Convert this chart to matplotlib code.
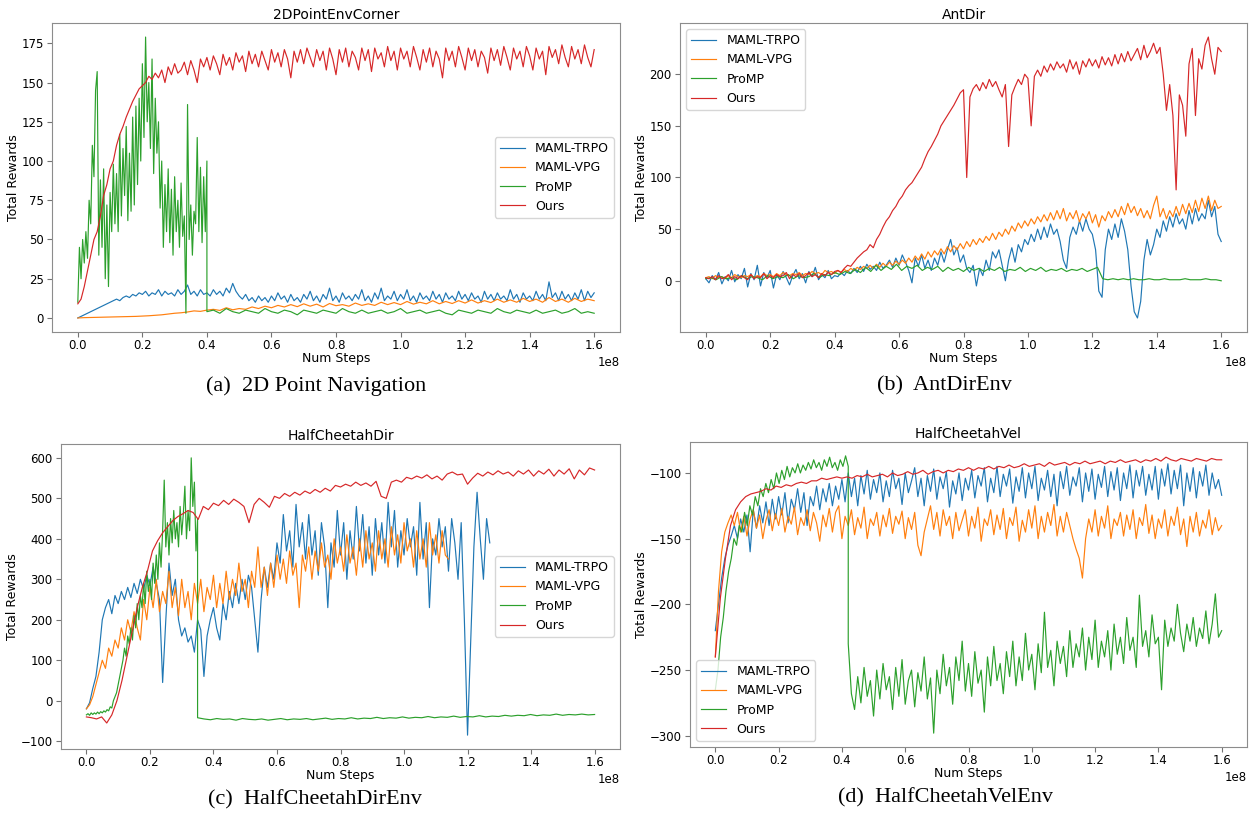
import numpy as np
import matplotlib
matplotlib.use("Agg")
import matplotlib.pyplot as plt

labels = ["MAML-TRPO", "MAML-VPG", "ProMP", "Ours"]
colors = ["#1f77b4", "#ff7f0e", "#2ca02c", "#d62728"]

# ---------------- (a) 2DPointEnvCorner ----------------
a_trpo = [0, 1, 2, 3, 4, 5, 6, 7, 8, 9, 10, 11, 12, 11, 13, 14, 13, 15, 14, 16, 15, 17, 14, 16, 15, 18, 14, 17, 15, 16,
          14, 18, 15, 17, 21, 15, 17, 14, 18, 15, 16, 14, 18, 15, 17, 14, 19, 16, 22, 17, 14, 12, 15, 11, 13, 10, 14, 11, 13, 10,
          14, 11, 16, 12, 14, 10, 15, 11, 13, 10, 15, 12, 17, 11, 14, 10, 15, 12, 19, 11, 14, 10, 16, 12, 14, 11, 15, 12, 18, 11,
          14, 10, 16, 12, 19, 11, 14, 12, 17, 11, 15, 12, 18, 11, 14, 10, 16, 12, 14, 11, 17, 12, 15, 10, 16, 12, 14, 11, 17, 12,
          15, 11, 16, 12, 14, 10, 17, 12, 15, 11, 16, 12, 14, 11, 18, 12, 15, 10, 16, 12, 14, 11, 17, 12, 15, 11, 23, 13, 16, 11,
          17, 12, 15, 11, 16, 12, 18, 11, 17, 13, 16]
a_vpg = [0, 0.2, 0.3, 0.4, 0.5, 0.6, 0.7, 0.8, 0.9, 1.0, 1.2, 1.4, 1.7, 2.0, 2.5, 3.0, 3.3, 3.8, 4.5, 4.2,
         5.0, 5.5, 4.8, 6.5, 5.2, 6.0, 5.5, 7.0, 6.0, 7.5, 6.5, 8.0, 7.0, 8.5, 7.2, 9.0, 7.5, 8.8, 7.0, 9.2,
         7.8, 8.5, 7.5, 9.5, 8.0, 9.0, 8.0, 10, 8.5, 9.8, 8.5, 10.5, 8.8, 10, 9, 11, 9, 10.5, 9.2, 11,
         9.5, 11.5, 9.5, 11, 9.8, 12, 10, 11.5, 10, 12.5, 10.5, 12, 10, 13, 10.5, 12, 10, 12.5, 10.5, 12, 11]
a_promp_early = [10, 45, 25, 50, 35, 55, 38, 75, 60, 110, 90, 145, 157, 40, 88, 45, 95, 25, 72, 20,
                 80, 55, 98, 60, 92, 55, 117, 65, 108, 78, 122, 62, 105, 68, 128, 72, 135, 85, 140, 100,
                 162, 115, 179, 125, 150, 108, 165, 92, 140, 105, 125, 70, 100, 45, 85, 55, 95, 48, 82, 40,
                 90, 55, 75, 45, 86, 52, 65, 3, 136, 50, 72, 40, 68, 60, 115, 55, 96, 48, 90, 55, 100]
a_promp_late = [4, 5, 3, 6, 4, 3, 5, 4, 3, 6, 4, 3, 5, 4, 2, 5, 4, 3, 5, 4, 3, 6, 4, 3, 5, 3, 4, 5, 3, 4,
                6, 3, 4, 5, 3, 4, 5, 3, 2, 5, 4, 3, 5, 4, 3, 6, 4, 3, 5, 4, 3, 5, 3, 4, 5, 3, 4, 6, 3, 4, 3]
a_ours = [9, 12, 20, 30, 40, 50, 55, 65, 78, 85, 95, 100, 110, 117, 122, 128, 133, 138, 142, 146,
          148, 150, 154, 152, 156, 153, 158, 150, 160, 155, 162, 156, 158, 163, 155, 164, 158, 150, 165, 160,
          166, 158, 167, 162, 155, 168, 161, 166, 158, 169, 163, 167, 157, 170, 162, 168, 160, 170, 164, 158,
          171, 163, 169, 160, 171, 165, 153, 170, 163, 171, 162, 172, 166, 160, 171, 164, 170, 158, 172, 165,
          155, 171, 163, 172, 160, 170, 166, 158, 172, 164, 171, 157, 172, 165, 169, 160, 173, 164, 170, 158,
          172, 165, 170, 160, 173, 166, 158, 171, 163, 172, 160, 170, 165, 153, 172, 164, 170, 160, 173, 166,
          158, 172, 164, 171, 160, 170, 166, 156, 172, 164, 171, 161, 173, 166, 158, 172, 165, 170, 160, 173,
          167, 158, 172, 165, 170, 155, 173, 166, 171, 162, 174, 166, 160, 173, 165, 171, 162, 174, 166, 160, 171]

# ---------------- (b) AntDir ----------------
b_trpo = [2, -2, 5, 1, 8, -3, 4, 0, 10, -1, 6, 2, 12, -6, 7, 1, 15, -5, 8, 3, 10, -7, 6, 1, 9, 3, -4, 5, 11, 2,
          7, -2, 9, 4, 13, 1, 6, 3, 10, 2, 5,
          4, 8, 5, 10, 7, 12, 8, 14, 9, 16, 11, 14, 10, 18, 12, 15, 20, 13, 22, 15, 25, 18, 10, -2, 22, 14, 25, 12, 20, 10,
          22, 15, 28, 18, 30, 40, 25, 32, 18, 25, 12, 8, 15, -5, 12, 5, 20, 10, 28, 22, 30, 15, 0, 20, 32, 18, 35, 28, 40, 35,
          45, 38, 50, 40, 52, 42, 55, 45, 50, 38, 20, 12, 42, 52, 45, 58, 48, 60, 50, 45, 30, -10, -16, 30, 50, 40, 55, 42, 60, 48,
          30, -5, -30, -36, -20, 20, 40, 25, 35, 50, 42, 58, 48, 62, 52, 65, 55, 60, 50, 68, 55, 70, 58, 65, 60, 78, 62, 72, 45, 38]
b_vpg = [3, 4, 2, 5, 3, 4, 2, 5, 3, 6, 4, 3, 5, 4, 6, 3, 5, 4, 7, 5, 6, 4, 7, 5, 8, 6, 5, 7, 6, 8, 5, 7, 6, 9, 7, 8, 6, 10, 8, 9, 7,
         10, 8, 11, 9, 12, 10, 13, 11, 14, 12, 15, 12, 16, 13, 17, 14, 18, 15, 19, 16, 20, 17, 22, 18, 24, 20, 26, 21, 28, 23,
         29, 25, 31, 26, 33, 28, 34, 30, 36, 31, 38, 33, 40, 35, 41, 37, 43, 39, 46, 40, 47, 43, 50, 45, 53, 48, 56, 51, 58, 53,
         60, 55, 62, 57, 64, 58, 66, 59, 68, 60, 70, 58, 66, 60, 68, 57, 65, 60, 67, 56, 64, 52, 63, 58, 67, 61, 69, 62, 72, 64,
         75, 66, 72, 63, 70, 61, 68, 60, 73, 82, 62, 70, 60, 68, 62, 72, 63, 74, 65, 75, 66, 78, 67, 80, 70, 82, 68, 78, 70, 72]
b_promp = [2, 3, 1, 4, 2, 3, 1, 5, 2, 4, 3, 1, 5, 2, 4, 3, 6, 2, 5, 3, 4, 7, 3, 6, 5, 8,
           6, 9, 7, 11, 8, 13, 9, 15, 10, 14, 11, 16, 10, 14, 12, 15, 10, 13, 11, 14, 9, 13, 10, 12,
           9, 13, 10, 12, 9, 12, 10, 13, 9, 11, 10, 13, 9, 12, 10, 13, 9, 11, 10, 12, 9, 11, 10, 12,
           9, 11, 13, 2, 1, 2, 1, 2, 1, 2, 1, 1, 2, 1, 1, 2, 1, 1, 1, 2, 1, 1, 1, 2, 1, 1, 0]
b_ours = [3, 2, 4, 1, 5, 2, 3, 6, 1, 4, 2, 5, 3, 1, 6, 2, 4, 3, 7, 2, 5, 3, 6, 4, 5, 8, 2, 6, 4, 7, 3, 5, 8, 4, 6, 3, 7, 5, 8, 6, 9,
          10, 8, 12, 15, 14, 18, 22, 25, 28, 30, 35, 32, 40, 45, 52, 58, 62, 68, 72, 78, 82, 88, 92, 95, 100, 105, 110, 118, 125, 130,
          136, 142, 150, 155, 160, 165, 170, 176, 182, 185, 100, 178, 186, 190, 184, 192, 186, 195, 188, 193, 185, 178, 190, 130, 180, 188,
          195, 190, 200, 196, 150, 198, 204, 198, 208, 202, 210, 204, 212, 206, 210, 202, 214, 205, 212, 200, 213, 207, 215, 208, 214, 206,
          217, 209, 216, 208, 219, 210, 220, 212, 222, 213, 219, 225, 214, 228, 216, 222, 230, 220, 226, 200, 165, 190, 160, 88, 180, 170,
          140, 210, 225, 160, 215, 205, 228, 236, 215, 200, 226, 222]

# ---------------- (c) HalfCheetahDir ----------------
c_trpo = [-20, -5, 30, 60, 120, 200, 230, 250, 215, 260, 240, 270, 250, 280, 255, 290, 265, 300, 275, 310,
          285, 330, 290, 250, 45, 200, 340, 260, 300, 200, 160, 180, 145, 160, 120, 200, 175, 60, 160, 200,
          230, 180, 150, 240, 200, 270, 230, 290, 240, 300, 250, 310, 280, 200, 120, 250, 330, 280, 340, 300,
          390, 340, 460, 370, 420, 330, 485, 380, 440, 350, 460, 360, 420, 310, 440, 380, 230, 390, 330, 470,
          360, 440, 300, 420, 350, 480, 370, 460, 340, 430, 310, 450, 360, 440, 340, 490, 380, 470, 330, 420,
          360, 450, 380, 430, 310, 490, 350, 440, 230, 400, 360, 450, 380, 430, 320, 450, 390, 300, 440, 200,
          -85, 150, 380, 515, 400, 300, 450, 390]
c_vpg = [-20, -10, 10, 40, 70, 100, 80, 130, 110, 150, 130, 180, 150, 200, 170, 220, 180, 150, 250, 200,
         280, 230, 300, 220, 270, 240, 320, 230, 280, 210, 300, 230, 270, 200, 290, 240, 300, 220, 280, 250,
         310, 230, 290, 240, 320, 250, 300, 260, 340, 270, 300, 230, 320, 280, 380, 280, 330, 260, 340, 280,
         360, 300, 350, 290, 370, 310, 340, 230, 360, 320, 380, 300, 370, 320, 390, 330, 360, 300, 400, 340,
         380, 320, 410, 340, 380, 310, 400, 330, 420, 350, 390, 320, 420, 350, 400, 330, 430, 360, 410, 340,
         440, 370, 400, 330, 420, 350, 400, 330, 440, 360, 410, 340, 420, 360, 350]
c_promp_early = [-35, -32, -36, -30, -34, -30, -33, -28, -32, -27, -30, -25, -28, -22, -25, -15, -18, 0, 10, 20,
                 40, 60, 80, 100, 130, 110, 160, 140, 180, 150, 210, 180, 240, 200, 260, 230, 290, 240, 320, 270,
                 300, 250, 340, 290, 360, 300, 390, 330, 420, 545, 380, 440, 360, 450, 390, 470, 400, 440, 380, 480,
                 410, 460, 530, 400, 470, 420, 600, 480, 540, 370, 450]
c_promp_late = [-42, -45, -47, -44, -46, -45, -48, -44, -46, -47, -45, -48, -46, -44, -47, -45, -46, -44, -47, -45,
                -43, -46, -44, -45, -42, -45, -43, -44, -41, -44, -42, -43, -40, -43, -41, -42, -39, -42, -40, -41,
                -38, -41, -39, -40, -37, -40, -38, -39, -36, -38, -36, -37, -34, -37, -35, -36, -33, -36, -34, -35,
                -33, -35, -34]
c_ours = [-40, -42, -45, -40, -55, -35, 0, 50, 110, 170, 230, 280, 320, 370, 395, 415, 430, 445, 455, 462,
          470, 465, 448, 480, 472, 488, 482, 495, 485, 498, 490, 480, 440, 485, 500, 490, 478, 505, 500, 512,
          505, 515, 508, 518, 512, 522, 515, 525, 518, 532, 528, 535, 530, 540, 532, 538, 530, 542, 505, 500,
          540, 545, 540, 552, 548, 555, 550, 558, 548, 555, 545, 560, 565, 558, 560, 535, 550, 562, 555, 565,
          558, 568, 560, 565, 555, 568, 560, 570, 555, 568, 560, 572, 555, 570, 560, 573, 548, 570, 558, 575, 570]

# ---------------- (d) HalfCheetahVel ----------------
d_trpo = [-220, -200, -180, -165, -155, -148, -140, -150, -135, -145, -132, -160, -128, -142, -125, -138, -122, -140, -120, -135,
          -118, -132, -115, -138, -120, -128, -112, -130, -115, -140, -118, -125, -110, -128, -112, -122, -108, -125, -110, -120,
          -105, -122, -100, -118, -104, -125, -102, -116, -98, -120, -105, -115, -100, -122, -106, -118, -98, -112, -104, -124,
          -100, -115, -106, -96, -118, -104, -125, -102, -114, -97, -120, -103, -112, -99, -126, -106, -116, -100, -121, -104,
          -113, -98, -119, -102, -110, -96, -122, -104, -115, -95, -118, -101, -110, -97, -123, -103, -114, -96, -119, -100,
          -112, -95, -121, -104, -113, -98, -118, -101, -125, -99, -112, -95, -117, -103, -110, -96, -122, -100, -114, -97,
          -120, -101, -111, -95, -118, -99, -113, -96, -121, -100, -112, -94, -119, -98, -110, -95, -117, -101, -113, -95,
          -120, -97, -110, -93, -116, -98, -112, -94, -125, -100, -114, -96, -119, -99, -110, -94, -117, -100, -112, -105, -117]
d_vpg = [-240, -190, -160, -145, -138, -132, -140, -130, -145, -133, -148, -135, -128, -142, -132, -150, -136, -128, -144, -131,
         -140, -127, -145, -133, -139, -126, -147, -134, -140, -128, -144, -130, -138, -152, -132, -141, -127, -145, -130, -125,
         -150, -133, -140, -128, -147, -134, -142, -126, -150, -135, -140, -130, -148, -132, -141, -127, -146, -133, -139, -129,
         -150, -134, -143, -130, -155, -163, -145, -135, -125, -143, -130, -148, -128, -140, -133, -150, -130, -144, -136, -128,
         -148, -133, -142, -126, -152, -135, -140, -128, -147, -132, -143, -127, -150, -134, -140, -126, -152, -136, -145, -128,
         -142, -125, -150, -133, -145, -130, -140, -124, -148, -133, -145, -130, -140, -150, -158, -165, -180, -150, -135, -145,
         -128, -148, -133, -142, -125, -150, -135, -140, -130, -148, -132, -143, -128, -150, -134, -140, -124, -146, -132, -150,
         -135, -142, -128, -148, -133, -140, -126, -147, -135, -156, -133, -145, -130, -148, -136, -142, -128, -147, -134, -144, -140]
d_promp_early = [-265, -250, -225, -210, -190, -175, -165, -150, -155, -140, -145, -130, -140, -125, -132, -118, -125, -112, -118, -108,
                 -115, -105, -112, -100, -108, -98, -105, -95, -103, -96, -100, -93, -100, -94, -98, -92, -97, -90, -96, -92,
                 -98, -90, -95, -88, -96, -92, -98, -90, -95, -87, -95]
d_promp_late = [-230, -268, -280, -255, -275, -248, -270, -258, -285, -250, -272, -245, -265, -255, -280, -248, -270, -242, -276, -258,
                -250, -278, -252, -266, -240, -272, -256, -298, -250, -268, -238, -262, -248, -276, -240, -258, -228, -266, -245, -270,
                -236, -260, -250, -282, -240, -262, -232, -258, -245, -268, -236, -255, -228, -262, -240, -258, -222, -250, -238, -265,
                -230, -252, -206, -248, -235, -262, -228, -245, -232, -255, -220, -248, -230, -240, -218, -250, -225, -242, -212, -248,
                -228, -240, -220, -250, -215, -238, -225, -245, -210, -235, -225, -248, -193, -232, -220, -240, -208, -230, -225, -265,
                -212, -232, -218, -228, -200, -222, -236, -215, -228, -210, -232, -218, -226, -205, -230, -215, -192, -225, -220]
d_ours = [-240, -195, -165, -140, -128, -122, -118, -116, -115, -114, -112, -113, -110, -111, -109, -110, -108, -107, -108, -106,
          -106, -104, -105, -104, -103, -104, -103, -104, -102, -103, -101, -103, -102, -101, -103, -100, -102, -101, -99, -101,
          -100, -98, -101, -99, -98, -100, -98, -99, -97, -98, -96, -98, -96, -97, -95, -97, -95, -96, -94, -96,
          -95, -93, -95, -94, -93, -95, -92, -94, -93, -92, -94, -92, -93, -91, -93, -92, -91, -93, -91, -92,
          -90, -92, -91, -90, -92, -90, -91, -89, -91, -88, -90, -91, -89, -90, -91, -89, -90, -91, -89, -90, -90]

SCALE = 1e8


def steps(vals, start, end):
    return np.linspace(start, end, len(vals)) * SCALE


def join(early, late, s0, s1, s2):
    x = np.concatenate([steps(early, s0, s1), steps(late, s1, s2)])
    y = np.concatenate([np.array(early, float), np.array(late, float)])
    return x, y


panels = [
    dict(title="2DPointEnvCorner", caption="(a)  2D Point Navigation",
         rect=[52 / 1251, 1 - 332 / 814, 568 / 1251, 309 / 814], cap_xy=(316, 386),
         series=[(steps(a_trpo, 0, 1.6), a_trpo), (steps(a_vpg, 0, 1.6), a_vpg),
                 join(a_promp_early, a_promp_late, 0, 0.4, 1.6), (steps(a_ours, 0, 1.6), a_ours)],
         legend="center right"),
    dict(title="AntDir", caption="(b)  AntDirEnv",
         rect=[680 / 1251, 1 - 332 / 814, 567 / 1251, 309 / 814], cap_xy=(944, 386),
         series=[(steps(b_trpo, 0, 1.6), b_trpo), (steps(b_vpg, 0, 1.6), b_vpg),
                 (steps(b_promp, 0, 1.6), b_promp), (steps(b_ours, 0, 1.6), b_ours)],
         legend="upper left"),
    dict(title="HalfCheetahDir", caption="(c)  HalfCheetahDirEnv",
         rect=[61 / 1251, 1 - 749 / 814, 559 / 1251, 305 / 814], cap_xy=(315, 800),
         series=[(steps(c_trpo, 0, 1.27), c_trpo), (steps(c_vpg, 0, 1.14), c_vpg),
                 join(c_promp_early, c_promp_late, 0, 0.35, 1.6), (steps(c_ours, 0, 1.6), c_ours)],
         legend="center right"),
    dict(title="HalfCheetahVel", caption="(d)  HalfCheetahVelEnv",
         rect=[690 / 1251, 1 - 747 / 814, 557 / 1251, 305 / 814], cap_xy=(945, 798),
         series=[(steps(d_trpo, 0, 1.6), d_trpo), (steps(d_vpg, 0, 1.6), d_vpg),
                 join(d_promp_early, d_promp_late, 0, 0.42, 1.6), (steps(d_ours, 0, 1.6), d_ours)],
         legend="lower left"),
]

plt.rcParams["font.family"] = "DejaVu Sans"
fig = plt.figure(figsize=(12.51, 8.14), dpi=100)

for p in panels:
    ax = fig.add_axes(p["rect"])
    for (x, y), lab, col in zip(p["series"], labels, colors):
        ax.plot(x, y, color=col, lw=0.85, label=lab)
    ax.set_title(p["title"], fontsize=10, pad=3)
    ax.set_xlabel("Num Steps", fontsize=9, labelpad=0)
    ax.set_ylabel("Total Rewards", fontsize=9, labelpad=1)
    ax.tick_params(labelsize=8.5, color="0.45", length=3.5)
    ax.tick_params(axis="x", pad=1.5)
    ax.tick_params(axis="y", pad=2.5)
    ax.xaxis.get_offset_text().set_fontsize(8.5)
    for s in ax.spines.values():
        s.set_color("0.55")
    ax.legend(loc=p["legend"], fontsize=9, handlelength=2.0)
    cx, cy = p["cap_xy"]
    fig.text(cx / 1251, 1 - cy / 814, p["caption"], ha="center", va="center",
             fontsize=16, family="Liberation Serif")

fig.savefig("out.png", dpi=100)
